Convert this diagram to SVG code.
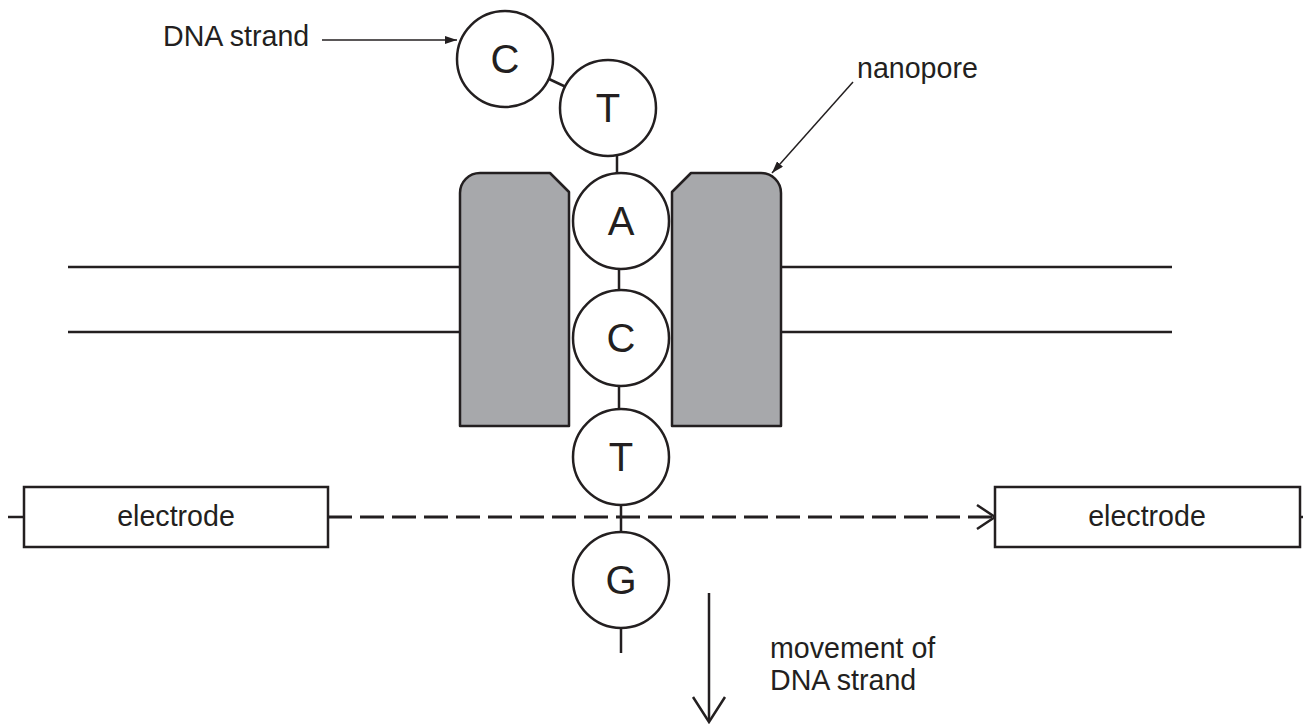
<svg xmlns="http://www.w3.org/2000/svg" width="1303" height="724" viewBox="0 0 1303 724">
<style>
.ln{stroke:#231f20;stroke-width:2.5;fill:none}
.thin{stroke:#231f20;stroke-width:1.5;fill:none}
.base circle{fill:#fff;stroke:#231f20;stroke-width:2.5}
.base text{font-family:"Liberation Sans",Arial,sans-serif;font-size:40px;fill:#231f20;text-anchor:middle}
.lbl{font-family:"Liberation Sans",Arial,sans-serif;font-size:28.6px;fill:#231f20}
.pore{fill:#a7a8ab;stroke:#231f20;stroke-width:2.5;stroke-linejoin:round}
.box{fill:#fff;stroke:#231f20;stroke-width:2.5}
</style>
<defs>
<marker id="fa" viewBox="0 0 12 8" refX="12" refY="4" markerWidth="12" markerHeight="8" markerUnits="userSpaceOnUse" orient="auto">
<path d="M0,0 L12,4 L0,8 Z" fill="#231f20"/>
</marker>
</defs>
<g id="membrane">
<line class="ln" x1="68" y1="267" x2="460" y2="267"/>
<line class="ln" x1="68" y1="332" x2="460" y2="332"/>
<line class="ln" x1="781" y1="267" x2="1172" y2="267"/>
<line class="ln" x1="781" y1="332" x2="1172" y2="332"/>
</g>
<g id="nanopore-left">
<path class="pore" d="M460,193 A20,20 0 0 1 480,173 L550,173 L569,192 L569,426 L460,426 Z"/>
</g>
<g id="nanopore-right">
<path class="pore" d="M672,192 L691,173 L761,173 A20,20 0 0 1 781,193 L781,426 L672,426 Z"/>
</g>
<g id="connectors">
<line class="ln" x1="549" y1="79" x2="566" y2="87"/>
<line class="ln" x1="617" y1="155" x2="617" y2="174"/>
<line class="ln" x1="619" y1="268" x2="619" y2="291"/>
<line class="ln" x1="619" y1="385" x2="619" y2="410"/>
<line class="ln" x1="621" y1="504" x2="621" y2="533"/>
<line class="ln" x1="621" y1="627" x2="621" y2="653"/>
<line class="ln" x1="8" y1="517" x2="24" y2="517"/>
<line class="ln" x1="1300" y1="517" x2="1303" y2="517"/>
<line x1="328" y1="517" x2="993" y2="517" stroke="#231f20" stroke-width="3" stroke-dasharray="24 8"/>
<path d="M977,505 L995,517 L977,529" fill="none" stroke="#231f20" stroke-width="2.5"/>
<line class="thin" x1="322" y1="40" x2="457" y2="40" marker-end="url(#fa)"/>
<line class="thin" x1="853" y1="82" x2="772" y2="173" marker-end="url(#fa)"/>
<line class="ln" x1="709" y1="593" x2="709" y2="721"/>
<path d="M693,697 L709,722 L725,697" fill="none" stroke="#231f20" stroke-width="2.5"/>
</g>
<g id="base-C1" class="base"><circle cx="505" cy="59" r="48"/><text x="505" y="73">C</text></g>
<g id="base-T1" class="base"><circle cx="608" cy="108" r="48"/><text x="608" y="122">T</text></g>
<g id="base-A" class="base"><circle cx="621" cy="221" r="48"/><text x="621" y="235">A</text></g>
<g id="base-C2" class="base"><circle cx="621" cy="338" r="48"/><text x="621" y="352">C</text></g>
<g id="base-T2" class="base"><circle cx="621" cy="457" r="48"/><text x="621" y="471">T</text></g>
<g id="base-G" class="base"><circle cx="621" cy="580" r="48"/><text x="621" y="594">G</text></g>
<g id="electrode-left">
<rect class="box" x="24" y="487" width="304" height="60"/>
<text class="lbl" x="176" y="526" text-anchor="middle">electrode</text>
</g>
<g id="electrode-right">
<rect class="box" x="995" y="487" width="305" height="60"/>
<text class="lbl" x="1147" y="526" text-anchor="middle">electrode</text>
</g>
<g id="label-dna">
<text class="lbl" x="163" y="46">DNA strand</text>
</g>
<g id="label-nanopore">
<text class="lbl" x="857" y="78">nanopore</text>
</g>
<g id="label-movement">
<text class="lbl" x="770" y="658">movement of</text>
<text class="lbl" x="770" y="690">DNA strand</text>
</g>
</svg>
